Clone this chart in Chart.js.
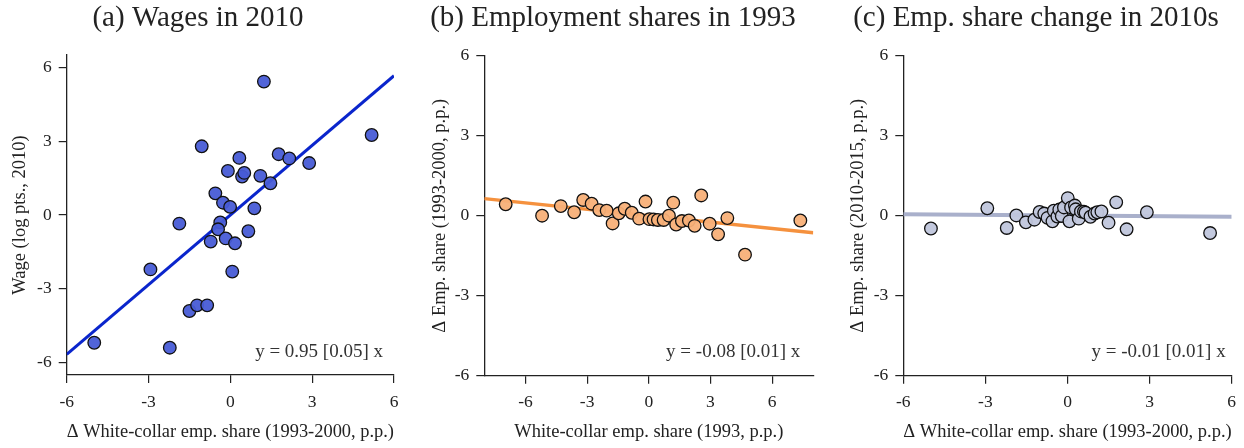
<!DOCTYPE html>
<html>
<head>
<meta charset="utf-8">
<script src="https://cdn.jsdelivr.net/npm/chart.js@4.4.1/dist/chart.umd.min.js"></script>
<style>
  html, body { margin: 0; padding: 0; background: #fff; }
  #wrap { position: relative; width: 1244px; height: 448px; overflow: hidden; }
  canvas { position: absolute; top: 0; }
</style>
</head>
<body>
<div id="wrap">
  <canvas id="ca" width="415" height="448" style="left:0px"></canvas>
  <canvas id="cb" width="415" height="448" style="left:415px"></canvas>
  <canvas id="cc" width="414" height="448" style="left:830px"></canvas>
</div>
<script>
// ---------- data ----------
const tickVals = [-6, -3, 0, 3, 6];

// (a) Wages in 2010
const aX = [-4.99, -2.22, -2.93, -1.87, -1.50, -1.22, -0.85, -1.05, -0.09, 0.33, 0.43, 0.51, 1.10, 1.23, 1.47, 1.77, 2.16, 2.89, 5.18, -0.55, -0.27, -0.01, 0.88, -0.37, -0.45, -0.72, -0.17, 0.17, 0.66, 0.07];
const aY = [-5.19, -5.39, -2.21, -0.35, -3.90, -3.67, -3.67, 2.79, 1.79, 2.32, 1.56, 1.71, 1.59, 5.42, 1.29, 2.47, 2.30, 2.11, 3.25, 0.88, 0.50, 0.33, 0.27, -0.30, -0.58, -1.08, -0.95, -1.15, -0.66, -2.30];
const aFitX = [-6, 6];
const aFitY = [-5.66, 5.66];

// (b) Employment shares in 1993
const bX = [-6.96, -5.19, -4.28, -3.63, -3.19, -2.78, -2.41, -2.05, -1.76, -1.46, -1.17, -0.83, -0.47, -0.16, 0.03, 0.23, 0.44, 0.72, 0.98, 1.19, 1.33, 1.61, 1.95, 2.23, 2.55, 2.96, 3.37, 3.82, 4.68, 7.37];
const bY = [0.43, 0.00, 0.36, 0.13, 0.59, 0.45, 0.21, 0.19, -0.29, 0.09, 0.26, 0.11, -0.11, 0.53, -0.13, -0.14, -0.16, -0.16, 0.00, 0.49, -0.33, -0.20, -0.18, -0.38, 0.76, -0.30, -0.70, -0.09, -1.46, -0.18];
const bFitX = [-8, 8];
const bFitY = [0.64, -0.64];

// (c) Emp. share change in 2010s
const cX = [-4.99, -2.93, -2.22, -1.87, -1.52, -1.21, -1.02, -0.85, -0.73, -0.55, -0.50, -0.37, -0.30, -0.21, -0.13, 0.01, 0.07, 0.13, 0.27, 0.30, 0.41, 0.49, 0.60, 0.66, 0.84, 0.99, 1.09, 1.24, 1.50, 1.78, 2.16, 2.90, 5.21];
const cY = [-0.48, 0.28, -0.46, 0.01, -0.25, -0.15, 0.14, 0.08, -0.08, -0.21, 0.19, -0.03, 0.23, -0.01, 0.31, 0.66, -0.21, 0.31, 0.38, 0.24, -0.11, 0.16, 0.15, 0.11, -0.04, 0.08, 0.13, 0.16, -0.26, 0.50, -0.51, 0.13, -0.65];
const cFitX = [-6, 6];
const cFitY = [0.05, -0.04];

// ---------- helpers ----------
const FONT = "'Liberation Serif', 'Times New Roman', serif";
const INK = '#222';

const textPlugin = {
  id: 'panelText',
  afterDraw(chart, args, opts) {
    const ctx = chart.ctx;
    ctx.save();
    ctx.fillStyle = INK;
    ctx.textBaseline = 'middle';
    ctx.font = `29px ${FONT}`;
    ctx.textAlign = 'center';
    ctx.fillText(opts.title, opts.titleX, opts.titleY);
    ctx.font = `19px ${FONT}`;
    ctx.fillStyle = '#333';
    ctx.textAlign = 'right';
    ctx.fillText(opts.note, chart.chartArea.right - opts.noteInset, opts.noteY);
    ctx.restore();
  }
};

function pairs(xs, ys) { return xs.map((x, i) => ({ x: x, y: ys[i] })); }

function build(id, p) {
  const axisGrid = { display: true, drawOnChartArea: false, drawTicks: true, tickLength: 8, color: INK, lineWidth: 1.2 };
  const axisBorder = { display: true, color: INK, width: 1.3 };
  const tickFont = { family: FONT, size: 17.5 };
  return new Chart(document.getElementById(id), {
    type: 'scatter',
    data: {
      datasets: [
        {
          data: pairs(p.xs, p.ys),
          backgroundColor: p.fill,
          borderColor: '#111',
          borderWidth: 1.3,
          pointRadius: 6.3,
          pointHoverRadius: 6.3
        },
        {
          type: 'line',
          data: pairs(p.fx, p.fy),
          borderColor: p.lineColor,
          borderWidth: p.lineWidth,
          pointRadius: 0,
          fill: false,
          tension: 0
        }
      ]
    },
    options: {
      responsive: false,
      animation: false,
      devicePixelRatio: 1,
      layout: { padding: { left: 0, right: p.padRight, top: p.top, bottom: 0 } },
      plugins: {
        legend: { display: false },
        tooltip: { enabled: false },
        panelText: { title: p.title, titleX: p.titleX, titleY: 18, note: p.note, noteInset: p.noteInset, noteY: 352 }
      },
      scales: {
        x: {
          type: 'linear', min: p.xmin, max: p.xmax,
          afterBuildTicks: s => { s.ticks = tickVals.map(v => ({ value: v })); },
          afterFit: s => { s.height = 448 - p.bottom; s.paddingLeft = 0; s.paddingRight = 0; },
          ticks: { padding: 8.5, color: INK, font: tickFont, maxRotation: 0, callback: v => String(v) },
          grid: axisGrid,
          border: axisBorder,
          title: { display: true, text: p.xTitle, color: INK, font: { family: FONT, size: 18.5 }, padding: { top: 0, bottom: 5.2 } }
        },
        y: {
          type: 'linear', min: p.ymin, max: p.ymax,
          afterBuildTicks: s => { s.ticks = tickVals.map(v => ({ value: v })); },
          afterFit: s => { s.width = p.left; s.paddingTop = 0; s.paddingBottom = 0; },
          ticks: { padding: 7, color: INK, font: tickFont, callback: v => String(v) },
          grid: axisGrid,
          border: axisBorder,
          title: { display: true, text: p.yTitle, color: INK, font: { family: FONT, size: 18.5 }, padding: { top: p.yTitlePad, bottom: 0 } }
        }
      }
    },
    plugins: [textPlugin]
  });
}

build('ca', {
  xs: aX, ys: aY, fx: aFitX, fy: aFitY,
  fill: 'rgba(72,92,214,0.95)', lineColor: '#0a25cc', lineWidth: 3,
  xmin: -6, xmax: 6, ymin: -6.5, ymax: 6.5,
  left: 66.7, padRight: 21, top: 55, bottom: 375,
  yTitlePad: 8.9,
  title: '(a) Wages in 2010', titleX: 198,
  note: 'y = 0.95 [0.05] x', noteInset: 11,
  xTitle: 'Δ White-collar emp. share (1993-2000, p.p.)',
  yTitle: 'Wage (log pts., 2010)'
});

build('cb', {
  xs: bX, ys: bY, fx: bFitX, fy: bFitY,
  fill: 'rgba(248,176,120,0.95)', lineColor: '#f5913e', lineWidth: 3.5,
  xmin: -8, xmax: 8, ymin: -6, ymax: 6,
  left: 69.3, padRight: 16.7, top: 55.7, bottom: 375.7,
  yTitlePad: 13.9,
  title: '(b) Employment shares in 1993', titleX: 613 - 415,
  note: 'y = -0.08 [0.01] x', noteInset: 13,
  xTitle: 'White-collar emp. share (1993, p.p.)',
  yTitle: 'Δ Emp. share (1993-2000, p.p.)'
});

build('cc', {
  xs: cX, ys: cY, fx: cFitX, fy: cFitY,
  fill: 'rgba(192,198,220,0.95)', lineColor: '#a9b0cb', lineWidth: 4,
  xmin: -6, xmax: 6, ymin: -6, ymax: 6,
  left: 73.3, padRight: 12.3, top: 55.7, bottom: 375.7,
  yTitlePad: 17.2,
  title: '(c) Emp. share change in 2010s', titleX: 1036 - 830,
  note: 'y = -0.01 [0.01] x', noteInset: 6,
  xTitle: 'Δ White-collar emp. share (1993-2000, p.p.)',
  yTitle: 'Δ Emp. share (2010-2015, p.p.)'
});
</script>
</body>
</html>
